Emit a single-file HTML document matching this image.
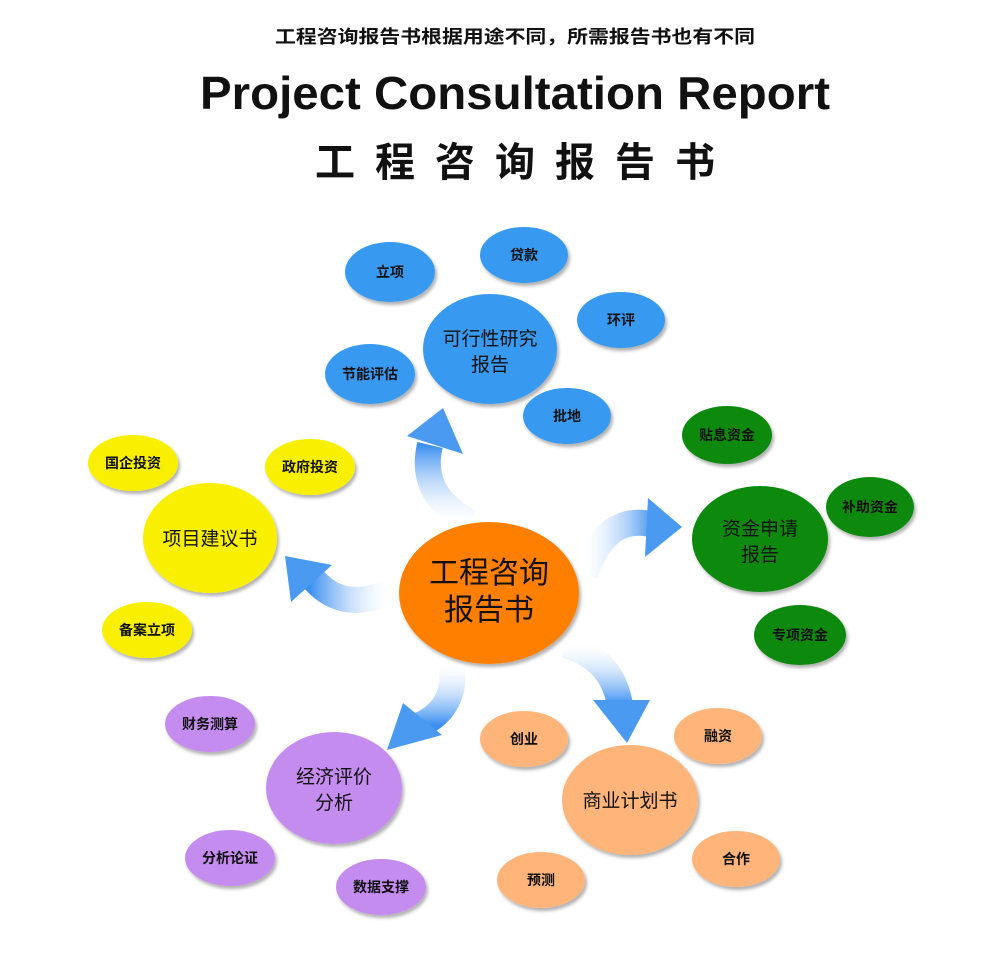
<!DOCTYPE html>
<html><head><meta charset="utf-8"><style>
body{margin:0;background:#fff;width:1000px;height:953px;overflow:hidden;font-family:"Liberation Sans","Noto Sans CJK SC",sans-serif}
</style></head><body>
<svg width="1000" height="953" viewBox="0 0 1000 953" xmlns="http://www.w3.org/2000/svg" font-family="Liberation Sans, Noto Sans CJK SC, sans-serif">
<defs>
<filter id="sh" x="-20%" y="-20%" width="150%" height="150%"><feDropShadow dx="2" dy="3" stdDeviation="1.5" flood-color="#000" flood-opacity="0.3"/></filter>
<linearGradient id="ga" x1="0" y1="1" x2="0" y2="0"><stop offset="0" stop-color="#fff" stop-opacity="0.2"/><stop offset="1" stop-color="#3b8ff0"/></linearGradient>
<linearGradient id="gr" x1="0" y1="0" x2="1" y2="0"><stop offset="0" stop-color="#fff" stop-opacity="0.2"/><stop offset="1" stop-color="#3b8ff0"/></linearGradient>
<linearGradient id="gl" x1="1" y1="0" x2="0" y2="0"><stop offset="0" stop-color="#fff" stop-opacity="0.2"/><stop offset="1" stop-color="#3b8ff0"/></linearGradient>
<linearGradient id="gd" x1="0" y1="0" x2="0" y2="1"><stop offset="0" stop-color="#fff" stop-opacity="0.2"/><stop offset="1" stop-color="#3b8ff0"/></linearGradient>
</defs>
<text x="515" y="43" text-anchor="middle" font-size="18" font-weight="bold" fill="#111" textLength="480" lengthAdjust="spacingAndGlyphs">工程咨询报告书根据用途不同，所需报告书也有不同</text>
<text x="515" y="109" text-anchor="middle" font-size="46" font-weight="bold" fill="#111" textLength="630" lengthAdjust="spacingAndGlyphs">Project Consultation Report</text>
<text x="515" y="176" text-anchor="middle" font-size="40" font-weight="bold" fill="#111" textLength="400" lengthAdjust="spacing">工程咨询报告书</text>

<!-- arrows -->
<path d="M470 522 Q418 495 430 445" stroke="url(#ga)" stroke-width="26" fill="none"/>
<polygon points="407,436 443,408 463,454" fill="#4a9af2"/>
<path d="M585 575 Q605 512 655 525" stroke="url(#gr)" stroke-width="26" fill="none"/>
<polygon points="648,498 682,527 645,557" fill="#4a9af2"/>
<path d="M388 592 Q340 614 310 575" stroke="url(#gl)" stroke-width="26" fill="none"/>
<polygon points="285,556 332,565 291,602" fill="#4a9af2"/>
<path d="M452 665 Q457 708 420 725" stroke="url(#gd)" stroke-width="26" fill="none"/>
<polygon points="387,750 403,703 442,735" fill="#4a9af2"/>
<path d="M565 645 Q612 658 620 705" stroke="url(#gd)" stroke-width="26" fill="none"/>
<polygon points="593,700 650,700 627,743" fill="#4a9af2"/>

<g filter="url(#sh)" font-size="14" font-weight="bold" text-anchor="middle" fill="#111">
<ellipse cx="489" cy="593" rx="90" ry="71" fill="#ff8000"/>
<ellipse cx="490" cy="349" rx="67" ry="55" fill="#3899f0"/>
<ellipse cx="390" cy="272" rx="45" ry="30" fill="#3899f0"/>
<ellipse cx="524" cy="255" rx="44" ry="28" fill="#3899f0"/>
<ellipse cx="621" cy="320" rx="44" ry="28" fill="#3899f0"/>
<ellipse cx="370" cy="374" rx="45" ry="30" fill="#3899f0"/>
<ellipse cx="567" cy="416" rx="44" ry="28" fill="#3899f0"/>
<ellipse cx="760" cy="539" rx="68" ry="53" fill="#0a8a10"/>
<ellipse cx="727" cy="435" rx="45" ry="29" fill="#0a8a10"/>
<ellipse cx="870" cy="507" rx="44" ry="30" fill="#0a8a10"/>
<ellipse cx="800" cy="635" rx="46" ry="30" fill="#0a8a10"/>
<ellipse cx="210" cy="538" rx="67" ry="55" fill="#f8f000"/>
<ellipse cx="133" cy="463" rx="45" ry="28" fill="#f8f000"/>
<ellipse cx="310" cy="467" rx="45" ry="28" fill="#f8f000"/>
<ellipse cx="147" cy="630" rx="45" ry="28" fill="#f8f000"/>
<ellipse cx="334" cy="788" rx="68" ry="56" fill="#c58cf0"/>
<ellipse cx="210" cy="724" rx="45" ry="28" fill="#c58cf0"/>
<ellipse cx="230" cy="858" rx="45" ry="28" fill="#c58cf0"/>
<ellipse cx="381" cy="887" rx="45" ry="28" fill="#c58cf0"/>
<ellipse cx="630" cy="800" rx="68" ry="55" fill="#ffb47a"/>
<ellipse cx="524" cy="739" rx="44" ry="28" fill="#ffb47a"/>
<ellipse cx="718" cy="736" rx="44" ry="28" fill="#ffb47a"/>
<ellipse cx="541" cy="880" rx="44" ry="28" fill="#ffb47a"/>
<ellipse cx="736" cy="859" rx="44" ry="28" fill="#ffb47a"/>
</g>
<g font-size="14" font-weight="bold" text-anchor="middle" fill="#111">
<text x="390" y="277">立项</text><text x="524" y="260">贷款</text><text x="621" y="325">环评</text>
<text x="370" y="379">节能评估</text><text x="567" y="421">批地</text>
<text x="727" y="440">贴息资金</text><text x="870" y="512">补助资金</text><text x="800" y="640">专项资金</text>
<text x="133" y="468">国企投资</text><text x="310" y="472">政府投资</text><text x="147" y="635">备案立项</text>
<text x="210" y="729">财务测算</text><text x="230" y="863">分析论证</text><text x="381" y="892">数据支撑</text>
<text x="524" y="744">创业</text><text x="718" y="741">融资</text><text x="541" y="885">预测</text><text x="736" y="864">合作</text>
</g>
<g text-anchor="middle" fill="#111" font-size="19">
<text x="490" y="345">可行性研究</text><text x="490" y="371">报告</text>
<text x="760" y="535">资金申请</text><text x="760" y="561">报告</text>
<text x="210" y="545">项目建议书</text>
<text x="334" y="783">经济评价</text><text x="334" y="809">分析</text>
<text x="630" y="807">商业计划书</text>
<text x="489" y="583" font-size="30">工程咨询</text><text x="489" y="620" font-size="30">报告书</text>
</g>
</svg>
</body></html>
